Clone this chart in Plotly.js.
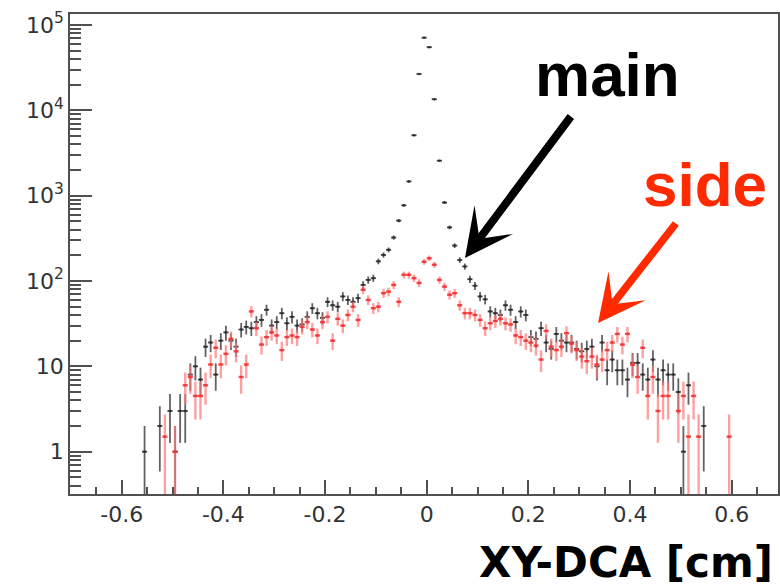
<!DOCTYPE html>
<html><head><meta charset="utf-8">
<script src="https://cdn.plot.ly/plotly-3.0.1.min.js"></script>
<style>html,body{margin:0;padding:0;background:#fff;}#chart{width:780px;height:588px;}</style>
</head><body><div id="chart"></div>
<script>
// bin centres of the XY-DCA histogram [cm]
const binCenters = [
 -0.555,-0.545,-0.535,-0.525,-0.515,-0.505,-0.495,-0.485,-0.475,-0.465,
 -0.455,-0.445,-0.435,-0.425,-0.415,-0.405,-0.395,-0.385,-0.375,-0.365,
 -0.355,-0.345,-0.335,-0.325,-0.315,-0.305,-0.295,-0.285,-0.275,-0.265,
 -0.255,-0.245,-0.235,-0.225,-0.215,-0.205,-0.195,-0.185,-0.175,-0.165,
 -0.155,-0.145,-0.135,-0.125,-0.115,-0.105,-0.095,-0.085,-0.075,-0.065,
 -0.055,-0.045,-0.035,-0.025,-0.015,-0.005,0.005,0.015,0.025,0.035,
 0.045,0.055,0.065,0.075,0.085,0.095,0.105,0.115,0.125,0.135,
 0.145,0.155,0.165,0.175,0.185,0.195,0.205,0.215,0.225,0.235,
 0.245,0.255,0.265,0.275,0.285,0.295,0.305,0.315,0.325,0.335,
 0.345,0.355,0.365,0.375,0.385,0.395,0.405,0.415,0.425,0.435,
 0.445,0.455,0.465,0.475,0.485,0.495,0.505,0.515,0.525,0.535,
 0.545,0.555,0.565,0.575,0.585,0.595
];
// "main" (black) counts
const mainCounts = [
 1,null,null,2,null,3,1,3,3,8,
 10,7,17,19,8,20,25,20,17,27,
 29,28,33,35,46,30,33,42,32,38,
 30,31,38,48,42,37,57,52,50,66,
 60,57,63,90,103,108,170,202,232,323,
 510,770,1470,5100,26700,71000,55000,13500,2570,830,
 425,260,176,148,105,88,66,61,44,42,
 40,52,46,33,44,40,22,21,28,19,
 16,24,20,19,19,16,15,16,17,10,
 19,9,12,9,9,7,11,11,8,7,
 12,7,9,8,8,5,1,6,null,null,
 2,null,null,null,null,null
];
// "side" (red) counts
const sideCounts = [
 null,null,null,null,1.5,null,1,null,6,7.5,
 4.5,4.5,6,10.5,16.5,10.5,14,21,15,7.5,
 10.5,44,28,18,22,25,23,15.5,22,23,
 22,29,33,27,23,33,38,20,36,30,
 40,50,35,79,60,48,50,72,75,90,
 57,118,118,108,95,168,185,155,103,86,
 69,72,52,42,42,40,35,28,32,34,
 36,32,31,23,22,20,19,17.5,12,26,
 17,15.5,17,24.5,18.5,15.5,13,11.5,13,10.5,
 12,15.5,19,24,18,24,10.5,7.5,16.5,4.5,
 7.5,3,4.5,4.5,null,3,4.5,1.5,4.5,1.5,
 null,null,null,null,null,1.5
];
const xTickVals = [-0.6,-0.4,-0.2,0,0.2,0.4,0.6];
const xTickText = ['-0.6','-0.4','-0.2','0','0.2','0.4','0.6'];
const yTickVals = [1,10,100,1000,10000,100000];
const yTickText = ['1','10','10<sup>2</sup>','10<sup>3</sup>','10<sup>4</sup>','10<sup>5</sup>'];
const seriesNames = ['main','side'];
const xTitle = 'XY-DCA [cm]';
const binHalfWidth = 0.005;

// Poisson errors
const poissonErr = arr => arr.map(v => (v == null ? null : Math.sqrt(v)));

const xRange = [-0.7017, 0.6911];
const yRange = [-0.496, 5.129];

function histTrace(name, y, ptColor, errColor, thick) {
  return {
    type: 'scatter', mode: 'markers', name: name,
    x: binCenters, y: y,
    marker: {size: 2.5, color: ptColor},
    error_y: {type: 'data', array: poissonErr(y), visible: true, width: 0, thickness: thick, color: errColor},
    error_x: {type: 'constant', value: binHalfWidth, visible: true, width: 0, thickness: thick, color: ptColor},
    showlegend: false, hoverinfo: 'x+y'
  };
}

const data = [
  // carrier trace (no visible point) so the minor-tick axes get drawn
  {type: 'scatter', mode: 'markers', x: [null], y: [null], xaxis: 'x2', yaxis: 'y2',
   marker: {size: 0, opacity: 0}, showlegend: false, hoverinfo: 'skip'},
  histTrace(seriesNames[0], mainCounts, 'rgba(45,45,45,0.9)', 'rgba(70,70,70,0.85)', 1.8),
  histTrace(seriesNames[1], sideCounts, 'rgba(245,50,50,0.85)', 'rgba(255,120,120,0.7)', 2.4)
];

const axisGray = '#505050';
const tickFont = {family: 'DejaVu Sans, Arial, sans-serif', size: 22, color: '#333'};
const layout = {
  width: 780, height: 588, showlegend: false,
  margin: {l: 70, r: 2, t: 14, b: 94, pad: 0},
  paper_bgcolor: '#fff', plot_bgcolor: '#fff',
  xaxis: {
    range: xRange, autorange: false, showgrid: false, zeroline: false,
    showline: true, mirror: true, linecolor: axisGray, linewidth: 1.8,
    tickmode: 'array', tickvals: xTickVals, ticktext: xTickText,
    ticks: 'inside', ticklen: 14, tickwidth: 2, tickcolor: axisGray,
    tickfont: tickFont
  },
  yaxis: {
    type: 'log', range: yRange, autorange: false, showgrid: false, zeroline: false,
    showline: true, mirror: true, linecolor: axisGray, linewidth: 1.8,
    tickmode: 'array', tickvals: yTickVals, ticktext: yTickText,
    ticks: 'inside', ticklen: 22, tickwidth: 2, tickcolor: axisGray,
    tickfont: tickFont
  },
  // overlay axes carrying the secondary (minor) ticks
  xaxis2: {
    overlaying: 'x', anchor: 'y', side: 'bottom', range: xRange, autorange: false,
    tickmode: 'linear', tick0: 0, dtick: 0.05,
    ticks: 'inside', ticklen: 7, tickwidth: 2, tickcolor: axisGray,
    showticklabels: false, showgrid: false, zeroline: false, showline: false
  },
  yaxis2: {
    overlaying: 'y', anchor: 'x', side: 'left', type: 'log', range: yRange, autorange: false,
    dtick: 'D1',
    ticks: 'inside', ticklen: 11, tickwidth: 2, tickcolor: axisGray,
    showticklabels: false, showgrid: false, zeroline: false, showline: false
  },
  annotations: [
    {xref: 'paper', yref: 'paper', x: 0.9958, y: -0.142, xanchor: 'right', yanchor: 'middle',
     text: xTitle, showarrow: false,
     font: {family: 'DejaVu Sans, Arial, sans-serif', size: 42, color: '#000', weight: 'bold'}},
    {xref: 'paper', yref: 'paper', x: 0.7585, y: 0.873, xanchor: 'center', yanchor: 'middle',
     text: seriesNames[0], showarrow: false,
     font: {family: 'Liberation Sans, Arial, sans-serif', size: 62, color: '#000', weight: 'bold'}},
    {xref: 'paper', yref: 'paper', x: 0.8969, y: 0.645, xanchor: 'center', yanchor: 'middle',
     text: seriesNames[1], showarrow: false,
     font: {family: 'Liberation Sans, Arial, sans-serif', size: 62, color: '#ff2a00', weight: 'bold'}},
    {xref: 'paper', yref: 'paper', x: 0.5579, y: 0.4917, text: '', showarrow: true,
     ax: 107, ay: -143, arrowhead: 3, arrowwidth: 8, arrowsize: 1.0, arrowcolor: '#000'},
    {xref: 'paper', yref: 'paper', x: 0.7458, y: 0.3563, text: '', showarrow: true,
     ax: 79, ay: -101, arrowhead: 3, arrowwidth: 7.5, arrowsize: 1.05, arrowcolor: '#ff2a00'}
  ]
};

Plotly.newPlot('chart', data, layout, {staticPlot: true, displayModeBar: false});
</script>
</body></html>
